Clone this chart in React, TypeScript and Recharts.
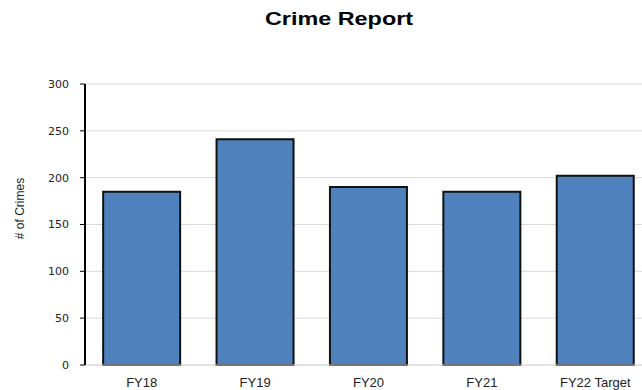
import React from "react";
import {
  BarChart,
  Bar,
  XAxis,
  YAxis,
  CartesianGrid,
} from "recharts";

const years = ["FY18", "FY19", "FY20", "FY21", "FY22 Target"];
const crimes = [185, 241, 190, 185, 202];
const yTicks = [0, 50, 100, 150, 200, 250, 300];
const boundaryTicks = [0, 1, 2, 3, 4, 5];

const data = years.map((name, i) => ({ name, crimes: crimes[i], slot: i + 0.5 }));

function YLabel({ viewBox }: any) {
  const x = viewBox.x + 24;
  const y = viewBox.y + viewBox.height / 2 - 16;
  return (
    <text
      x={x}
      y={y}
      transform={`rotate(-90, ${x}, ${y})`}
      textAnchor="middle"
      fontFamily="Liberation Sans, Arial, sans-serif"
      fontSize={12}
      fill="#222"
    >
      # of Crimes
    </text>
  );
}

export default function App() {
  return (
    <div
      style={{
        position: "absolute",
        left: 0,
        top: 0,
        width: 642,
        height: 390,
        overflow: "hidden",
        background: "#fff",
      }}
    >
      <div
        style={{
          position: "absolute",
          top: 9,
          left: 0,
          width: 678,
          textAlign: "center",
          fontFamily: "Liberation Sans, Arial, sans-serif",
          fontWeight: "bold",
          fontSize: 18,
          color: "#000",
          transform: "scaleX(1.3)",
          transformOrigin: "339px 0",
        }}
      >
        Crime Report
      </div>
      <BarChart
        width={660}
        height={390}
        data={data}
        margin={{ top: 84, right: 8, left: 0, bottom: 0 }}
        barCategoryGap="16%"
      >
        <CartesianGrid vertical={false} stroke="#d9d9d9" strokeWidth={1} />
        <XAxis
          xAxisId="edges"
          type="number"
          dataKey="slot"
          domain={[0, 5]}
          ticks={boundaryTicks}
          tick={false}
          axisLine={false}
          tickLine={{ stroke: "#d0d0d0" }}
          tickSize={4}
          height={0}
        />
        <XAxis
          dataKey="name"
          height={25}
          axisLine={{ stroke: "#d9d9d9" }}
          tickLine={false}
          tickSize={0}
          tickMargin={13}
          tick={{
            fontSize: 13,
            fill: "#222",
            fontFamily: "Liberation Sans, Arial, sans-serif",
          }}
          interval={0}
        />
        <YAxis
          width={85}
          domain={[0, 300]}
          ticks={yTicks}
          interval={0}
          axisLine={{ stroke: "#000", strokeWidth: 2 }}
          tickLine={{ stroke: "#000" }}
          tickSize={5}
          tickMargin={11}
          tick={{
            fontSize: 11,
            fill: "#222",
            fontFamily: "DejaVu Sans, sans-serif",
          }}
          label={<YLabel />}
        />
        <Bar
          dataKey="crimes"
          fill="#4f81bd"
          stroke="#111"
          strokeWidth={2}
          isAnimationActive={false}
        />
      </BarChart>
    </div>
  );
}
